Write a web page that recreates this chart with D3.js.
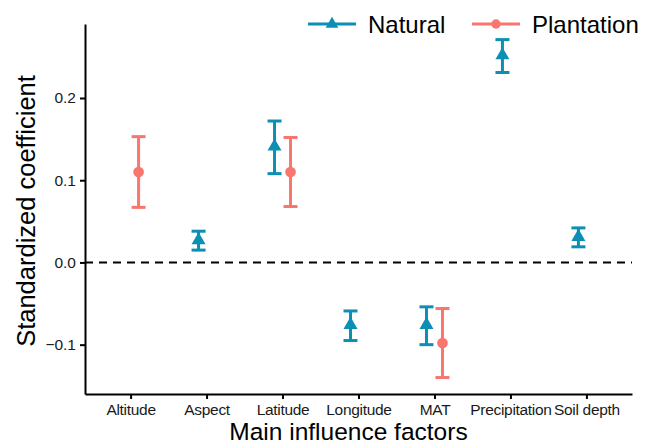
<!DOCTYPE html>
<html>
<head>
<meta charset="utf-8">
<script src="https://cdn.jsdelivr.net/npm/d3@7"></script>
<style>
  body { margin: 0; background: #fff; }
  text { font-family: Arial, "Liberation Sans", sans-serif; }
</style>
</head>
<body>
<div id="chart"></div>
<script>
// categories on x axis
const factors = ["Altitude", "Aspect", "Latitude", "Longitude", "MAT", "Precipitation", "Soil depth"];
const yTicks = [-0.1, 0.0, 0.1, 0.2];

// natural forest: factor, estimate, lower, upper
const natural = [
  { factor: "Aspect", est: 0.027, lo: 0.015, hi: 0.038 },
  { factor: "Latitude", est: 0.141, lo: 0.108, hi: 0.172 },
  { factor: "Longitude", est: -0.076, lo: -0.095, hi: -0.059 },
  { factor: "MAT", est: -0.076, lo: -0.100, hi: -0.054 },
  { factor: "Precipitation", est: 0.252, lo: 0.231, hi: 0.271 },
  { factor: "Soil depth", est: 0.031, lo: 0.019, hi: 0.042 }
];
// plantation forest
const plantation = [
  { factor: "Altitude", est: 0.110, lo: 0.067, hi: 0.153 },
  { factor: "Latitude", est: 0.110, lo: 0.068, hi: 0.152 },
  { factor: "MAT", est: -0.098, lo: -0.140, hi: -0.056 }
];

const blue = "#0c8fb4";
const red = "#f8766d";

const width = 658, height = 445;
const margin = { left: 85, right: 26, top: 24, bottom: 51 };

const svg = d3.select("#chart").append("svg")
  .attr("width", width)
  .attr("height", height);

const x = d3.scalePoint()
  .domain(factors)
  .range([margin.left, width - margin.right])
  .padding(0.6);

const y = d3.scaleLinear()
  .domain([-0.16, 0.29])
  .range([height - margin.bottom, margin.top]);

// dodge offset in px
const dodge = 8;

// zero reference line
svg.append("line")
  .attr("x1", margin.left).attr("x2", width - margin.right)
  .attr("y1", y(0)).attr("y2", y(0))
  .attr("stroke", "#000")
  .attr("stroke-width", 2)
  .attr("stroke-dasharray", "8,6");

// axes
const xAxis = svg.append("g")
  .attr("transform", `translate(0,${height - margin.bottom})`)
  .call(d3.axisBottom(x).tickSize(5).tickSizeOuter(0));
const yAxis = svg.append("g")
  .attr("transform", `translate(${margin.left},0)`)
  .call(d3.axisLeft(y).tickValues(yTicks).tickFormat(d3.format(".1f")).tickSize(5).tickSizeOuter(0));

[xAxis, yAxis].forEach((g) => {
  g.select(".domain").attr("stroke", "#000").attr("stroke-width", 2);
  g.selectAll(".tick line").attr("stroke", "#000").attr("stroke-width", 2);
  g.selectAll(".tick text").attr("fill", "#1a1a1a").style("font-size", "15.5px")
    .style("font-family", "Arial, 'Liberation Sans', sans-serif");
});
xAxis.selectAll(".tick text").attr("y", 21).attr("dy", 0).style("letter-spacing", "-0.3px");
// ggplot-style minus sign
yAxis.selectAll(".tick text").attr("x", -9)
  .text((d) => d3.format(".1f")(d).replace("-", "\u2212"));

// error bars + points
const drawSeries = (data, color, offset, shape) => {
  const g = svg.append("g");
  const cap = 7;
  data.forEach((d) => {
    const cx = x(d.factor) + offset;
    g.append("line")
      .attr("x1", cx).attr("x2", cx)
      .attr("y1", y(d.lo)).attr("y2", y(d.hi))
      .attr("stroke", color).attr("stroke-width", 3);
    [d.lo, d.hi].forEach((v) => {
      g.append("line")
        .attr("x1", cx - cap).attr("x2", cx + cap)
        .attr("y1", y(v)).attr("y2", y(v))
        .attr("stroke", color).attr("stroke-width", 3);
    });
    g.append("path")
      .attr("d", d3.symbol().type(shape).size(shape === d3.symbolCircle ? 90 : 85)())
      .attr("transform", `translate(${cx},${y(d.est)})`)
      .attr("fill", color);
  });
};
drawSeries(natural, blue, -dodge, d3.symbolTriangle);
drawSeries(plantation, red, dodge, d3.symbolCircle);

// axis titles
svg.append("text")
  .attr("x", (margin.left + width - margin.right) / 2 - 10)
  .attr("y", 440)
  .attr("text-anchor", "middle")
  .style("font-size", "24.5px")
  .attr("fill", "#000")
  .text("Main influence factors");

svg.append("text")
  .attr("transform", `translate(35,${(margin.top + height - margin.bottom) / 2 + 2}) rotate(-90)`)
  .attr("text-anchor", "middle")
  .style("font-size", "25.5px")
  .attr("fill", "#000")
  .text("Standardized coefficient");

// legend
const legend = [
  { name: "Natural", color: blue, shape: d3.symbolTriangle, x0: 308 },
  { name: "Plantation", color: red, shape: d3.symbolCircle, x0: 472 }
];
const ly = 24;
legend.forEach((l) => {
  const g = svg.append("g");
  g.append("line")
    .attr("x1", l.x0).attr("x2", l.x0 + 48)
    .attr("y1", ly).attr("y2", ly)
    .attr("stroke", l.color).attr("stroke-width", 3);
  g.append("path")
    .attr("d", d3.symbol().type(l.shape).size(70)())
    .attr("transform", `translate(${l.x0 + 24},${ly})`)
    .attr("fill", l.color);
  g.append("text")
    .attr("x", l.x0 + 60)
    .attr("y", ly)
    .attr("dy", "0.36em")
    .style("font-size", "24px")
    .attr("fill", "#000")
    .text(l.name);
});
</script>
</body>
</html>
